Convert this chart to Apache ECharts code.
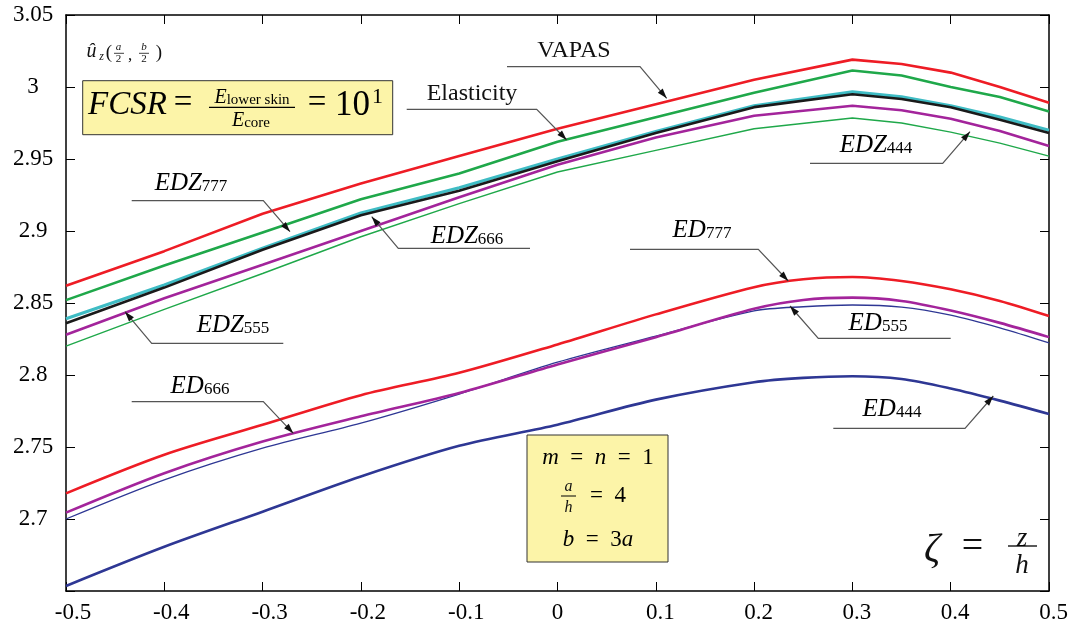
<!DOCTYPE html>
<html><head><meta charset="utf-8">
<script src="https://cdn.jsdelivr.net/npm/echarts@6/dist/echarts.min.js"></script>
<style>html,body{margin:0;padding:0;background:#fff}#c{width:1076px;height:629px}</style>
</head><body><div id="c"></div>
<script>
// ---- data ----
const zUpper = [-0.5,-0.4,-0.3,-0.2,-0.1,0,0.1,0.2,0.3,0.35,0.4,0.45,0.5];
const vapas      = [2.862,2.886,2.912,2.933,2.952,2.971,2.988,3.005,3.019,3.016,3.010,3.000,2.989];
const elasticity = [2.852,2.876,2.899,2.922,2.940,2.962,2.979,2.996,3.0115,3.008,3.000,2.993,2.983];
const edz777     = [2.839,2.8625,2.888,2.9125,2.930,2.950,2.969,2.987,2.9966,2.9931,2.987,2.9791,2.970];
const edz666     = [2.836,2.8607,2.887,2.911,2.928,2.9485,2.968,2.986,2.995,2.9917,2.986,2.9773,2.968];
const edz555     = [2.828,2.8533,2.8765,2.900,2.9234,2.946,2.965,2.980,2.987,2.9838,2.978,2.9694,2.959];
const edz444     = [2.820,2.8456,2.8705,2.896,2.919,2.941,2.956,2.971,2.9785,2.975,2.9687,2.961,2.952];

const zLower = [-0.5,-0.4,-0.3,-0.2,-0.1,0,0.1,0.2,0.25,0.3,0.35,0.4,0.45,0.5];
const ed777 = [2.7178,2.7446,2.7654,2.786,2.8015,2.8212,2.8421,2.861,2.8665,2.8681,2.8653,2.8595,2.8514,2.8409];
const ed666 = [2.7044,2.7318,2.7538,2.7713,2.7875,2.8073,2.8263,2.846,2.8521,2.8537,2.8514,2.8448,2.8362,2.8263];
const ed555 = [2.700,2.7272,2.7492,2.7666,2.7868,2.8089,2.827,2.8445,2.8474,2.8486,2.8472,2.8416,2.8328,2.8223];
const ed444 = [2.6535,2.6807,2.7051,2.7295,2.7508,2.7655,2.7829,2.795,2.798,2.7991,2.7972,2.7906,2.7822,2.7729];

const xMin = -0.5, xMax = 0.5, xStep = 0.1;
const yMin = 2.65, yMax = 3.05, yStep = 0.05;

// ---- helpers ----
const FF = 'Liberation Serif';
function pairs(xs, ys){ return xs.map((x,i)=>[x, ys[i]]); }
function line(name, xs, ys, color, width, smooth){
  return {name, type:'line', data:pairs(xs,ys), showSymbol:false, smooth:smooth||false,
    lineStyle:{color, width}, itemStyle:{color}, silent:true};
}
const RED='#ee1c25', GREEN='#1fa84a', CYAN='#3fbcc4', BLACK='#1a1a1a', MAG='#a3249b', BLUE='#2e3794';

const chart = echarts.init(document.getElementById('c'), null, {renderer:'canvas'});

const axisCommon = {
  axisLine:{show:true, onZero:false, lineStyle:{color:'#000', width:1.5}},
  axisTick:{show:true, inside:true, length:9, lineStyle:{color:'#000', width:1}},
  splitLine:{show:false}
};

const option = {
  animation:false,
  backgroundColor:'#fff',
  grid:{left:66, right:27, top:15, bottom:38, containLabel:false},
  xAxis:[
    Object.assign({type:'value', min:xMin, max:xMax, interval:xStep, position:'bottom',
      axisLabel:{fontFamily:FF, fontSize:23, color:'#000', margin:10,
        formatter:v=>{ if(Math.abs(v)<1e-9) return '{p0|0}'; const s=String(+v.toFixed(1)); return v<0?'{n|'+s+'}':'{p|'+s+'}'; },
        rich:{ n:{fontFamily:FF,fontSize:23,color:'#000',padding:[0,0,0,14]},
               p:{fontFamily:FF,fontSize:23,color:'#000',padding:[0,0,0,9]},
               p0:{fontFamily:FF,fontSize:23,color:'#000'} } }
    }, axisCommon),
    Object.assign({type:'value', min:xMin, max:xMax, interval:xStep, position:'top', axisLabel:{show:false}}, axisCommon)
  ],
  yAxis:[
    Object.assign({type:'value', min:yMin, max:yMax, interval:yStep, position:'left',
      axisLabel:{fontFamily:FF, fontSize:23, color:'#000', align:'center', margin:33,
        formatter:v=> (Math.abs(v-yMin)<1e-6 ? '' : String(+v.toFixed(2))) }
    }, axisCommon),
    Object.assign({type:'value', min:yMin, max:yMax, interval:yStep, position:'right', axisLabel:{show:false}}, axisCommon)
  ],
  series:[
    line('ED444', zLower, ed444, BLUE, 2.6, 0.3),
    line('ED555', zLower, ed555, BLUE, 1.3, 0.3),
    line('ED666', zLower, ed666, MAG, 2.6, 0.3),
    line('ED777', zLower, ed777, RED, 2.6, 0.3),
    line('EDZ444', zUpper, edz444, GREEN, 1.4),
    line('EDZ555', zUpper, edz555, MAG, 2.6),
    line('EDZ777', zUpper, edz777, CYAN, 3.2),
    line('EDZ666', zUpper, edz666, BLACK, 2.6),
    line('Elasticity', zUpper, elasticity, GREEN, 2.6),
    line('VAPAS', zUpper, vapas, RED, 2.6)
  ]
};
chart.setOption(option);

// ---- annotations (pixel positions of leaders/labels) ----
const leaders = [
  {pts:[[507,66.7],[640,66.7],[666.7,98.3]], text:'VAPAS', at:[574,51], kind:'plain'},
  {pts:[[406.7,109.3],[536.7,109.3],[566.7,140]], text:'Elasticity', at:[472,94], kind:'plain'},
  {pts:[[131.7,200.7],[263.3,200.7],[290,231.7]], text:['EDZ','777'], at:[191,183]},
  {pts:[[530,248.3],[398.3,248.3],[371.7,216.7]], text:['EDZ','666'], at:[467,236]},
  {pts:[[283.3,343.3],[151.7,343.3],[125,311.7]], text:['EDZ','555'], at:[233,325]},
  {pts:[[810,163.3],[942.7,163.3],[970,131.7]], text:['EDZ','444'], at:[876,145]},
  {pts:[[630,249.3],[758.3,249.3],[788.3,281]], text:['ED','777'], at:[702,230]},
  {pts:[[950.7,338.3],[818.3,338.3],[790,306]], text:['ED','555'], at:[878,323]},
  {pts:[[131.7,401.7],[263.3,401.7],[293.3,433.3]], text:['ED','666'], at:[200,386]},
  {pts:[[833.3,428.3],[965,428.3],[993.3,396]], text:['ED','444'], at:[892,409]}
];
const els = [];
const subRich = {
  m:{fontFamily:FF,fontSize:25,fontStyle:'italic',color:'#111',lineHeight:25,verticalAlign:'bottom'},
  s:{fontFamily:FF,fontSize:17,color:'#111',lineHeight:15,verticalAlign:'bottom'}
};
leaders.forEach(L=>{
  els.push({type:'polyline', shape:{points:L.pts}, style:{stroke:'#555', lineWidth:1.2, fill:null}, z:100, silent:true});
  const n=L.pts.length, tip=L.pts[n-1], prev=L.pts[n-2];
  let dx=tip[0]-prev[0], dy=tip[1]-prev[1]; const len=Math.hypot(dx,dy); dx/=len; dy/=len;
  const AL=10, AW=3.2, bx=tip[0]-dx*AL, by=tip[1]-dy*AL;
  els.push({type:'polygon', shape:{points:[tip,[bx-dy*AW,by+dx*AW],[bx+dy*AW,by-dx*AW]]}, style:{fill:'#111'}, z:101, silent:true});
  if(L.kind==='plain'){
    els.push({type:'text', x:L.at[0], y:L.at[1], z:102, silent:true,
      style:{text:L.text, fontFamily:FF, fontSize:24, fill:'#111', align:'center', verticalAlign:'middle'}});
  } else {
    els.push({type:'text', x:L.at[0], y:L.at[1], z:102, silent:true,
      style:{text:'{m|'+L.text[0]+'}{s|'+L.text[1]+'}', align:'center', verticalAlign:'middle', rich:subRich}});
  }
});

const YEL='#fcf4a8';
// FCSR box
els.push({type:'rect', shape:{x:82.7,y:80.7,width:310,height:54}, style:{fill:YEL, stroke:'#333', lineWidth:1}, z:90, silent:true});
els.push({type:'text', x:88, y:105, z:102, style:{text:'FCSR', fontFamily:FF, fontSize:33, fontStyle:'italic', fill:'#000', align:'left', verticalAlign:'middle'}});
els.push({type:'text', x:183, y:103, z:102, style:{text:'=', fontFamily:FF, fontSize:33, fill:'#000', align:'center', verticalAlign:'middle'}});
const fracRich = {
  E:{fontFamily:FF,fontSize:20,fontStyle:'italic',color:'#000',lineHeight:20,verticalAlign:'bottom'},
  s:{fontFamily:FF,fontSize:15,color:'#000',lineHeight:13,verticalAlign:'bottom'}
};
els.push({type:'text', x:252, y:98, z:102, style:{text:'{E|E}{s|lower skin}', align:'center', verticalAlign:'middle', rich:fracRich}});
els.push({type:'line', shape:{x1:209,y1:107.3,x2:295,y2:107.3}, style:{stroke:'#000', lineWidth:1.2}, z:102});
els.push({type:'text', x:251, y:121, z:102, style:{text:'{E|E}{s|core}', align:'center', verticalAlign:'middle', rich:fracRich}});
els.push({type:'text', x:317, y:103, z:102, style:{text:'=', fontFamily:FF, fontSize:33, fill:'#000', align:'center', verticalAlign:'middle'}});
els.push({type:'text', x:335, y:106, z:102, style:{text:'10', fontFamily:FF, fontSize:35, fill:'#000', align:'left', verticalAlign:'middle'}});
els.push({type:'text', x:372, y:97, z:102, style:{text:'1', fontFamily:FF, fontSize:22, fill:'#000', align:'left', verticalAlign:'middle'}});

// û_z(a/2, b/2)
const small = (t,x,y,fs,it,al)=>els.push({type:'text', x, y, z:102, style:{text:t, fontFamily:FF, fontSize:fs, fontStyle:it?'italic':'normal', fill:'#111', align:al||'center', verticalAlign:'middle'}});
small('û',91.5,52,20,true);
small('z',101.5,57,12,true);
small('(',109,53,19,false);
small('a',118.5,47,11,true);
els.push({type:'line', shape:{x1:114,y1:53.3,x2:124,y2:53.3}, style:{stroke:'#111', lineWidth:0.8}, z:102});
small('2',118.5,59,11,false);
small(',',130,56,17,false);
small('b',144,47,11,true);
els.push({type:'line', shape:{x1:139,y1:53.3,x2:149,y2:53.3}, style:{stroke:'#111', lineWidth:0.8}, z:102});
small('2',144,59,11,false);
small(')',159,53,19,false);

// params box
els.push({type:'rect', shape:{x:527,y:435,width:141,height:127}, style:{fill:YEL, stroke:'#333', lineWidth:1}, z:90, silent:true});
const pr = {i:{fontFamily:FF,fontSize:23,fontStyle:'italic',color:'#000'}, r:{fontFamily:FF,fontSize:23,color:'#000'}};
els.push({type:'text', x:598, y:458, z:102, style:{text:'{i|m}{r|  =  }{i|n}{r|  =  1}', align:'center', verticalAlign:'middle', rich:pr}});
small('a',568.5,487,16,true);
els.push({type:'line', shape:{x1:561,y1:496,x2:576,y2:496}, style:{stroke:'#000', lineWidth:1}, z:102});
small('h',568.5,508,16,true);
els.push({type:'text', x:608, y:496, z:102, style:{text:'{r|=  4}', align:'center', verticalAlign:'middle', rich:pr}});
els.push({type:'text', x:598, y:540, z:102, style:{text:'{i|b}{r|  =  3}{i|a}', align:'center', verticalAlign:'middle', rich:pr}});

// zeta = z/h
small('ζ',932,550,40,true);
small('=',972.5,547,38,false);
small('z',1022,539,27,true);
els.push({type:'line', shape:{x1:1008,y1:546,x2:1037,y2:546}, style:{stroke:'#000', lineWidth:1.3}, z:102});
small('h',1022,566,27,true);

chart.setOption({graphic:{elements:els}});
</script>
</body></html>
